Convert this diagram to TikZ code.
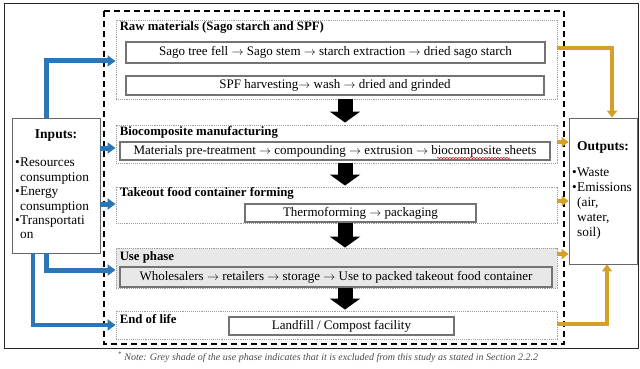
\documentclass[tikz,border=0pt]{standalone}
\usepackage{fontspec}
\setmainfont{Liberation Serif}
\usetikzlibrary{arrows.meta,decorations.pathmorphing}
\definecolor{inblue}{RGB}{46,117,182}
\definecolor{outgold}{RGB}{212,160,40}
\definecolor{shade}{RGB}{232,232,232}
\newcommand\bul{\makebox[5pt][l]{\textbullet}}
\newcommand\ind{\hspace*{5pt}}
\begin{document}
\begin{tikzpicture}[x=1pt,y=-1pt,
  phase/.style={draw=gray!75, densely dotted, line width=0.9pt, inner sep=0pt, minimum width=441pt},
  stepbox/.style={draw=gray!90!black, line width=1.1pt, inner sep=0pt, font=\fontsize{13}{15}\selectfont},
  ttl/.style={anchor=west, inner sep=0pt, font=\bfseries\fontsize{12.8}{14}\selectfont},
  blk/.style={line width=15pt, -{Triangle[width=30pt,length=11pt]}, black},
  bluearr/.style={draw=inblue, line width=5pt, -{Triangle[width=11pt,length=8pt]}},
  goldarr/.style={draw=outgold, line width=4pt, -{Triangle[width=10pt,length=7pt]}},
  side/.style={draw=gray!80!black, line width=0.8pt, fill=white, inner sep=0pt}]
\useasboundingbox (0,0) rectangle (640,369);
\fill[white] (0,0) rectangle (640,369);
% outer frame
\draw[line width=1pt, black!85] (4,4) rectangle (638.5,348);
% dashed system boundary
\draw[line width=1.1pt, dash pattern=on 6pt off 4pt] (104,11) rectangle (564,344);

% phase boxes
\node[phase, minimum height=79pt] (raw) at (336.5,59.5) {};
\node[phase, minimum height=38pt] (bio) at (336.5,144) {};
\node[phase, minimum height=36pt] (take) at (336.5,205) {};
\node[phase, minimum height=40pt, fill=shade] (use) at (336.5,268) {};
\node[phase, minimum height=28pt] (eol) at (336.5,325) {};

% titles
\node[ttl] (rawt) at ([xshift=4pt,yshift=-8pt]raw.north west) {Raw materials (Sago starch and SPF)};
\node[ttl] (biot) at ([xshift=4pt,yshift=-8pt]bio.north west) {Biocomposite manufacturing};
\node[ttl] (taket) at ([xshift=4pt,yshift=-7pt]take.north west) {Takeout food container forming};
\node[ttl] (uset) at ([xshift=4pt,yshift=-10pt]use.north west) {Use phase};
\node[ttl] (eolt) at ([xshift=4pt,yshift=-9pt]eol.north west) {End of life};

% step boxes
\node[stepbox, minimum width=419pt, minimum height=21pt] (sago) at (335.5,52.5) {Sago tree fell $\rightarrow$ Sago stem $\rightarrow$ starch extraction $\rightarrow$ dried sago starch};
\node[stepbox, minimum width=418pt, minimum height=19pt] (spf) at (335,85.5) {SPF harvesting$\rightarrow$ wash $\rightarrow$ dried and grinded};
\node[stepbox, minimum width=430pt, minimum height=18pt] (mat) at (335,151) {Materials pre-treatment $\rightarrow$ compounding $\rightarrow$ extrusion $\rightarrow$ biocomposite sheets};
\node[stepbox, minimum width=231pt, minimum height=18pt] (thermo) at (360.5,213) {Thermoforming $\rightarrow$ packaging};
\node[stepbox, minimum width=432pt, minimum height=20pt, fill=shade] (whole) at (336,277) {Wholesalers $\rightarrow$ retailers $\rightarrow$ storage $\rightarrow$ Use to packed takeout food container};
\node[stepbox, minimum width=225pt, minimum height=18pt] (land) at (341.5,326) {Landfill / Compost facility};

% spell-check underline
\draw[red!80!black, line width=0.5pt, decorate, decoration={snake, amplitude=0.6pt, segment length=3pt}] (437,158) -- (510,158);

% black block arrows
\coordinate (ax) at (345,0);
\draw[blk] (raw.south -| ax) -- ([yshift=2pt]bio.north -| ax);
\draw[blk] (bio.south -| ax) -- ([yshift=1pt]take.north -| ax);
\draw[blk] (take.south -| ax) -- (use.north -| ax);
\draw[blk] (use.south -| ax) -- ([yshift=1pt]eol.north -| ax);

% inputs / outputs
\node[side, minimum width=88pt, minimum height=135pt] (inp) at (56,185.5) {};
\node[font=\bfseries\fontsize{13.5}{15}\selectfont, inner sep=0pt] (inpt) at (56,136) {Inputs:};
\node[anchor=north west, align=left, inner sep=0pt, font=\fontsize{13.3}{14.4}\selectfont] (inpl) at (15,158)
 {\bul Resources\\ \ind consumption\\ \bul Energy\\ \ind consumption\\ \bul Transportati\\ \ind on};
\node[side, minimum width=68pt, minimum height=146pt] (out) at (603,191) {};
\node[font=\bfseries\fontsize{13.5}{15}\selectfont, inner sep=0pt] (outt) at (603,147) {Outputs:};
\node[anchor=north west, align=left, inner sep=0pt, font=\fontsize{13.3}{14.8}\selectfont] (outl) at (572,168)
 {\bul Waste\\ \bul Emissions\\ \ind (air,\\ \ind water,\\ \ind soil)};

% blue input arrows
\coordinate (b1) at (46,0);
\coordinate (b2) at (33,0);
\draw[bluearr] (inp.north -| b1) |- ([yshift=-1.5pt]raw.west);
\draw[bluearr] ([yshift=-4pt]inp.east |- bio.west) -- ([yshift=-4pt]bio.west);
\draw[bluearr] ([yshift=1pt]inp.east |- take.west) -- ([yshift=1pt]take.west);
\draw[bluearr] (inp.south -| b1) |- ([yshift=-2pt]use.west);
\draw[bluearr, line width=4pt] (inp.south -| b2) |- (eol.west);

% gold output arrows
\coordinate (g1) at (612,0);
\coordinate (g2) at (607,0);
\draw[goldarr] ([yshift=11.5pt]raw.east) -| (out.north -| g1);
\draw[goldarr] ([yshift=2pt]bio.east) -- ([yshift=2pt]out.west |- bio.east);
\draw[goldarr] ([yshift=4pt]take.east) -- ([yshift=4pt]out.west |- take.east);
\draw[goldarr] ([yshift=14pt]use.east) -- ([yshift=14pt]out.west |- use.east);
\draw[goldarr] ([yshift=1pt]eol.east) -| (out.south -| g2);

% note
\node[inner sep=0pt, text=gray!60!black, font=\itshape\fontsize{10}{12}\selectfont] (note) at (328,357)
 {\textsuperscript{*} Note: Grey shade of the use phase indicates that it is excluded from this study as stated in Section 2.2.2};
\end{tikzpicture}
\end{document}
